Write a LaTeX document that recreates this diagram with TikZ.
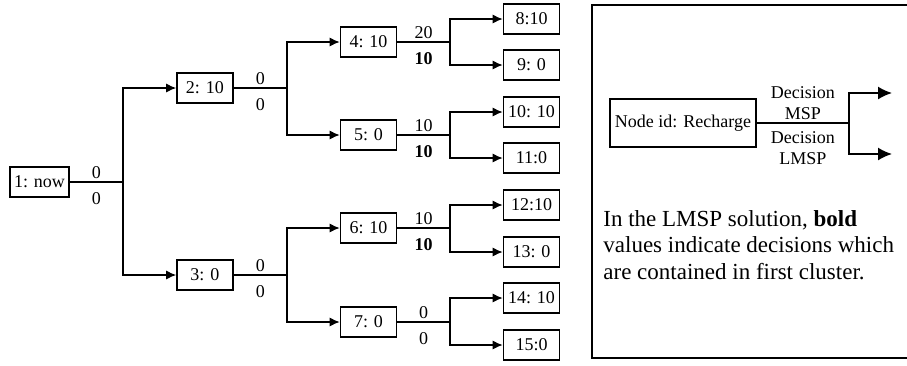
\documentclass[tikz,border=0pt]{standalone}
\usepackage{fontspec}
\setmainfont{Liberation Serif}
\usetikzlibrary{arrows.meta}
\tikzstyle{box} = [draw=black, line width=0.8pt, minimum width=28pt, minimum height=15pt, inner sep=2pt, font={\fontsize{9}{10.5}\selectfont}]
\tikzstyle{lab} = [inner sep=1pt, font={\fontsize{9}{10.5}\selectfont}]
\tikzstyle{up} = [lab, above=0.5pt]
\tikzstyle{down} = [lab, below=4pt]
\tikzstyle{link} = [line width=0.6pt]
\tikzstyle{branch} = [link, -{Latex[length=5pt,width=4.5pt]}]
\tikzstyle{bigbranch} = [link, line width=0.8pt, -{Latex[length=7pt,width=6.5pt]}]

\begin{document}
\begin{tikzpicture}[x=0.5pt,y=-0.5pt]
    \useasboundingbox (0,0) rectangle (907,365);
    % tree
    \node[box](1) at (39.5,182){1: now};
    \node[box](2) at (205,88){2: 10};
    \node[box](3) at (205,275){3: 0};
    \node[box](4) at (368.5,42){4: 10};
    \node[box](5) at (368.5,135){5: 0};
    \node[box](6) at (368.5,228){6: 10};
    \node[box](7) at (368.5,322){7: 0};
    \node[box](8) at (531.5,19){8:10};
    \node[box](9) at (531.5,65){9: 0};
    \node[box](10) at (531.5,112){10: 10};
    \node[box](11) at (531.5,158){11:0};
    \node[box](12) at (531.5,205){12:10};
    \node[box](13) at (531.5,252){13: 0};
    \node[box](14) at (531.5,298){14: 10};
    \node[box](15) at (531.5,345){15:0};
    \coordinate(j1) at (123,182);
    \coordinate(j2) at (287,88);
    \coordinate(j3) at (287,275);
    \coordinate(j4) at (450,42);
    \coordinate(j5) at (450,135);
    \coordinate(j6) at (450,228);
    \coordinate(j7) at (450,322);
    \draw[link](1)--node[up]{0}node[down]{0}(j1);
    \draw[link](2)--node[up]{0}node[down]{0}(j2);
    \draw[link](3)--node[up]{0}node[down]{0}(j3);
    \draw[link](4)--node[up]{20}node[down]{\textbf{10}}(j4);
    \draw[link](5)--node[up]{10}node[down]{\textbf{10}}(j5);
    \draw[link](6)--node[up]{10}node[down]{\textbf{10}}(j6);
    \draw[link](7)--node[up]{0}node[down]{0}(j7);
    \draw[branch](j1)|-(2);
    \draw[branch](j1)|-(3);
    \draw[branch](j2)|-(4);
    \draw[branch](j2)|-(5);
    \draw[branch](j3)|-(6);
    \draw[branch](j3)|-(7);
    \draw[branch](j4)|-(8);
    \draw[branch](j4)|-(9);
    \draw[branch](j5)|-(10);
    \draw[branch](j5)|-(11);
    \draw[branch](j6)|-(12);
    \draw[branch](j6)|-(13);
    \draw[branch](j7)|-(14);
    \draw[branch](j7)|-(15);
    % legend
    \draw[line width=0.8pt](907,5)-|(592,358)--(907,358);
    \node[box,minimum width=73pt,minimum height=24pt](key) at (683,123){Node id: Recharge};
    \coordinate(kj) at (849,123);
    \coordinate(ka) at (892,93);
    \coordinate(kb) at (892,154);
    \draw[link,line width=0.8pt](key)--node[up,align=center]{Decision\\MSP}node[lab,below=3pt,align=center]{Decision\\LMSP}(kj);
    \draw[bigbranch](kj)|-(ka);
    \draw[bigbranch](kj)|-(kb);
    \node[anchor=north west,align=left,inner sep=0pt,font={\fontsize{11.5}{13.25}\selectfont}](note) at (603,210){In the LMSP solution, \textbf{bold}\\values indicate decisions which\\are contained in first cluster.};
\end{tikzpicture}
\end{document}
